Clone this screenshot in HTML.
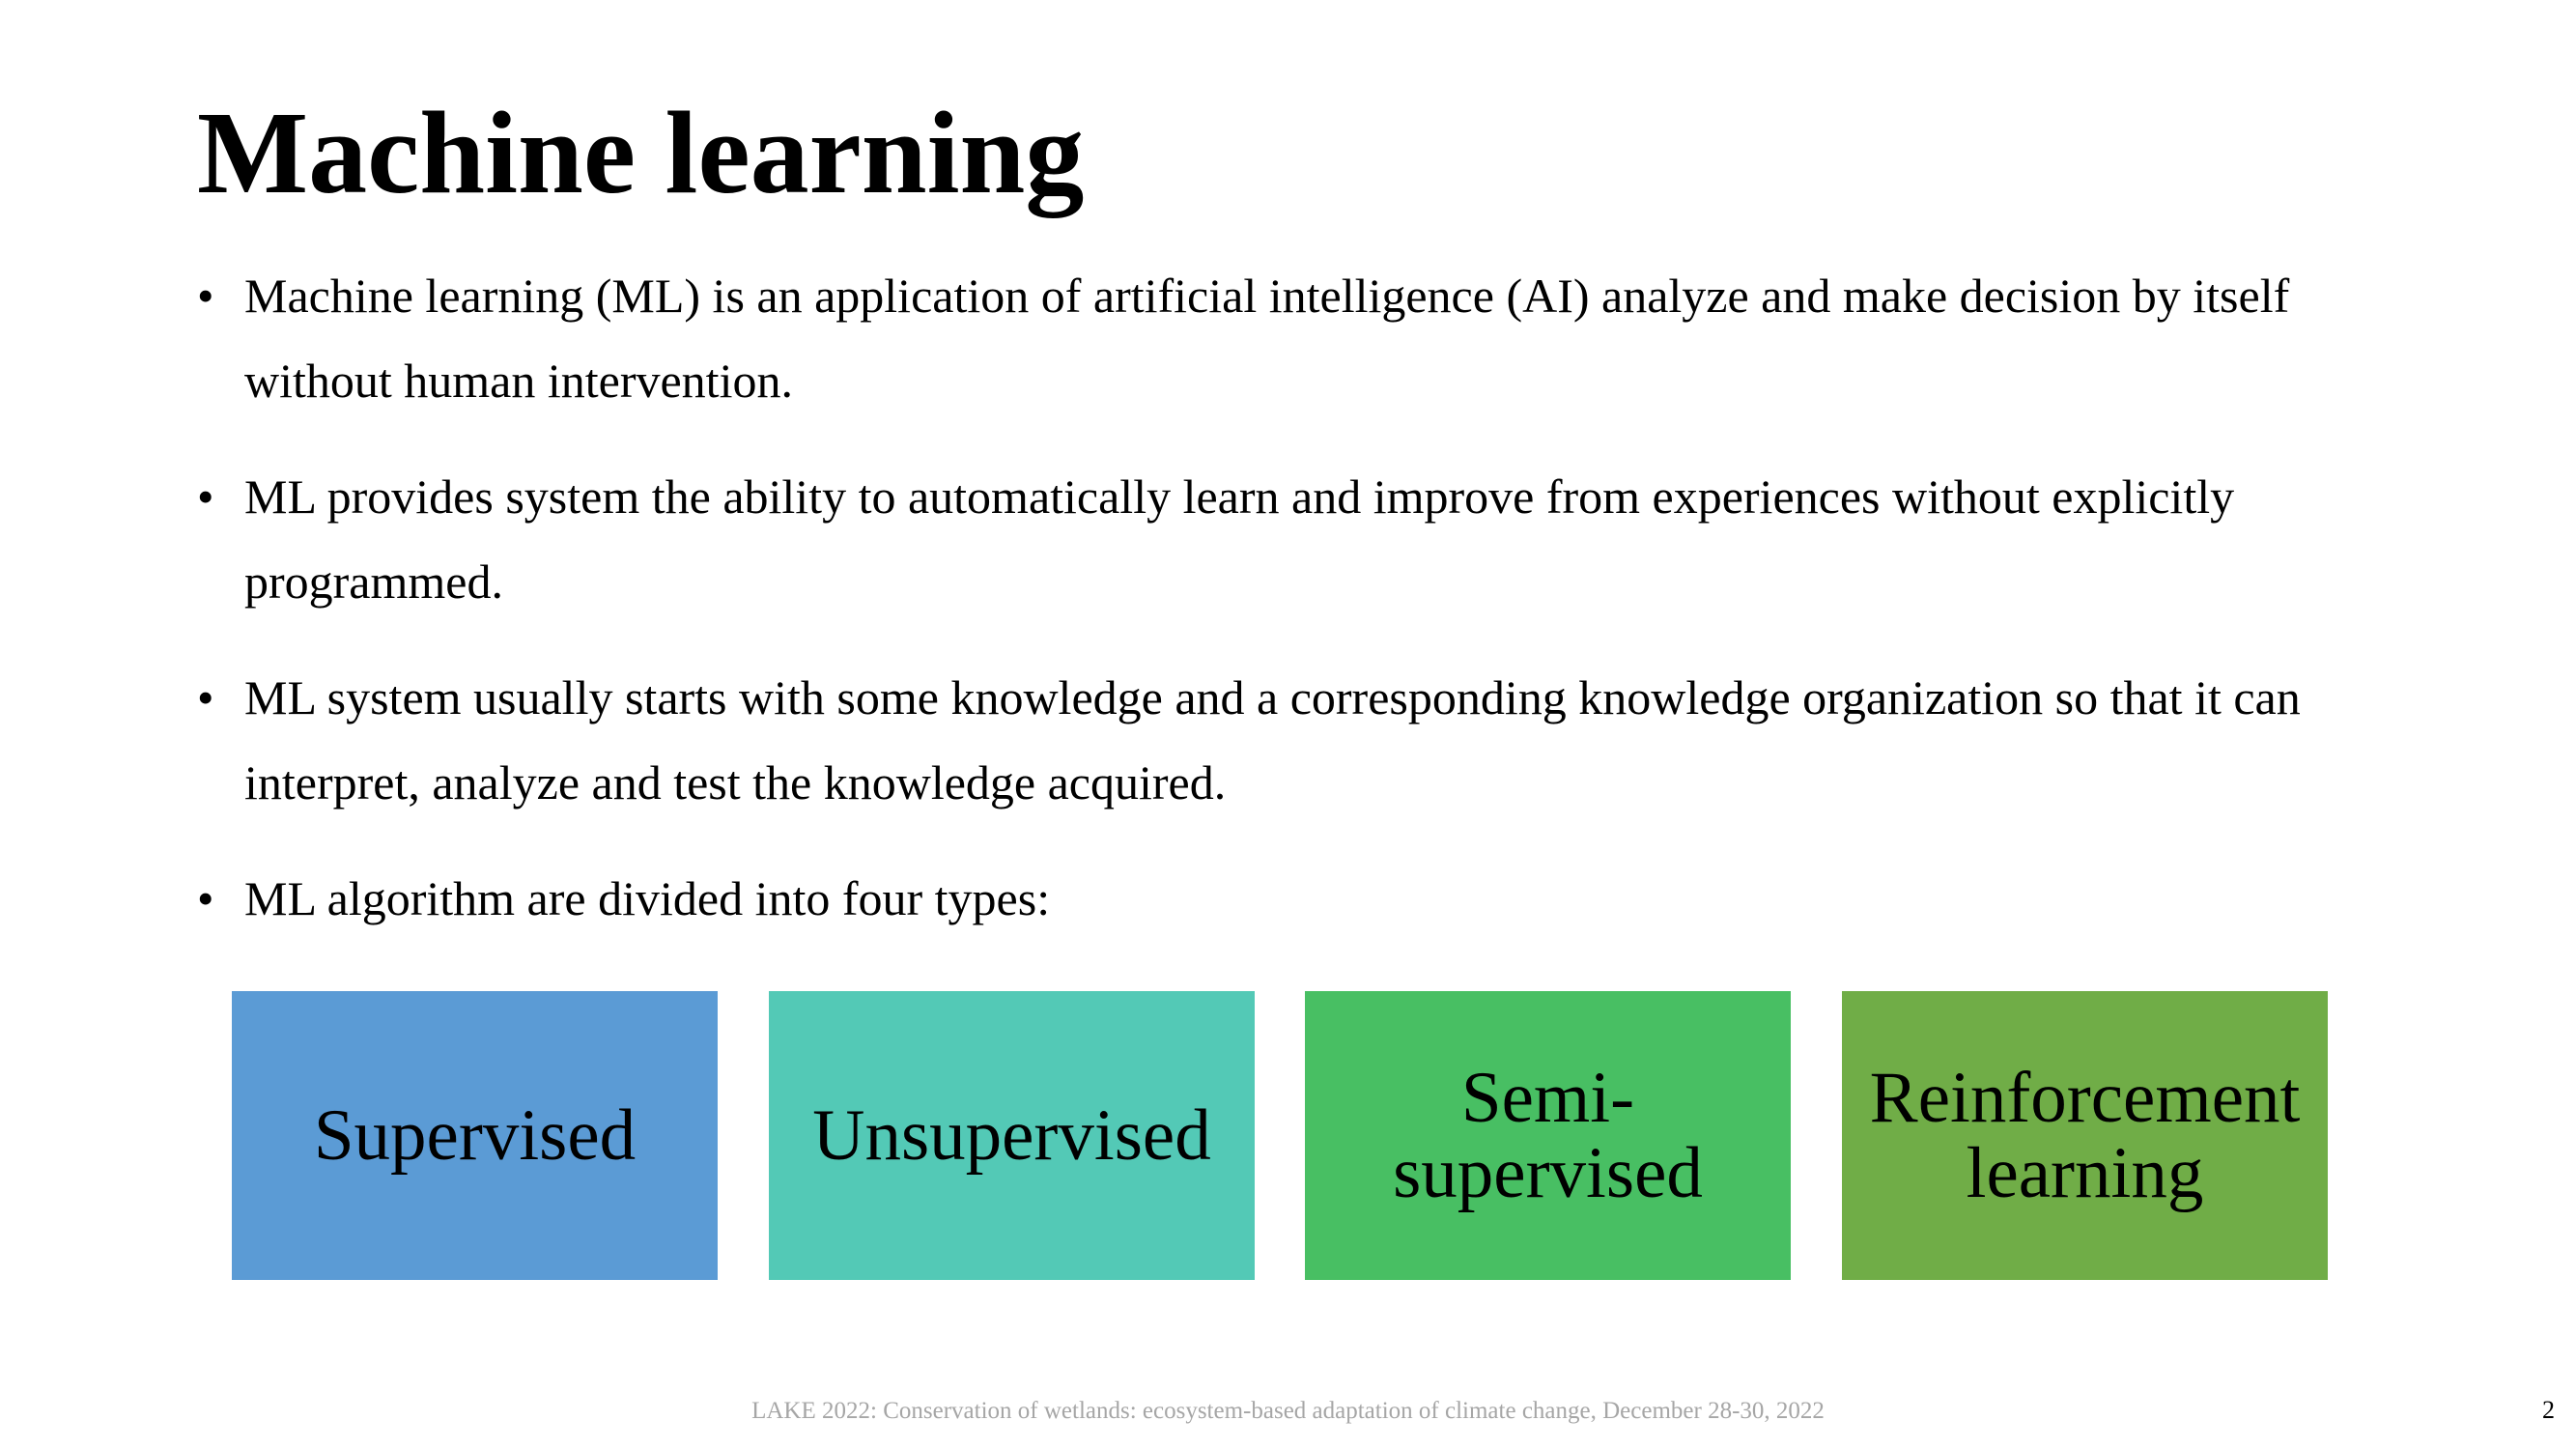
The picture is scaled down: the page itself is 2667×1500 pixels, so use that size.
<!DOCTYPE html>
<html><head><meta charset="utf-8"><style>
body{margin:0;width:2667px;height:1500px;background:#fff;position:relative;overflow:hidden;font-family:"Liberation Serif",serif;color:#000}
.t{position:absolute;left:204px;top:98px;font-size:122px;font-weight:bold;line-height:1;white-space:nowrap}
.b{position:absolute;left:253px;font-size:50px;line-height:88px;width:2300px;white-space:nowrap}
.b:before{content:"•";position:absolute;left:-49px}
.box{position:absolute;top:1026px;height:299px;width:503px;display:flex;align-items:center;justify-content:center;text-align:center;font-size:75px;line-height:78px}
.f{position:absolute;top:1447px;left:0;width:2667px;text-align:center;font-size:25px;color:#a6a6a6}
</style></head><body>
<div class="t">Machine learning</div>
<div class="b" style="top:262px">Machine learning (ML) is an application of artificial intelligence (AI) analyze and make decision by itself<br>without human intervention.</div>
<div class="b" style="top:470px">ML provides system the ability to automatically learn and improve from experiences without explicitly<br>programmed.</div>
<div class="b" style="top:678px">ML system usually starts with some knowledge and a corresponding knowledge organization so that it can<br>interpret, analyze and test the knowledge acquired.</div>
<div class="b" style="top:886px">ML algorithm are divided into four types:</div>
<div class="box" style="left:240px;background:#5B9BD5">Supervised</div>
<div class="box" style="left:796px;background:#53C9B6">Unsupervised</div>
<div class="box" style="left:1351px;background:#48BF63">Semi-<br>supervised</div>
<div class="box" style="left:1907px;background:#70AD47">Reinforcement<br>learning</div>
<div class="f">LAKE 2022: Conservation of wetlands: ecosystem-based adaptation of climate change, December 28-30, 2022</div>
<div style="position:absolute;left:2632px;top:1445px;font-size:26px">2</div>
</body></html>
